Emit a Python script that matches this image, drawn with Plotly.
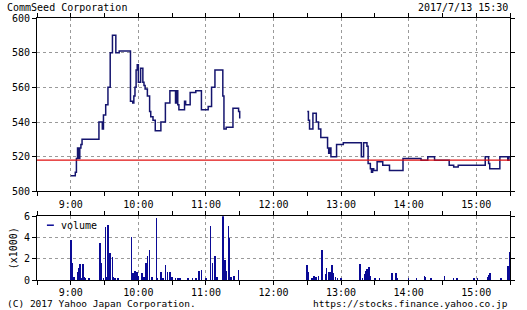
import plotly.graph_objects as go

# ---------------- data ----------------
price_times = ["09:00","09:04","09:05","09:06","09:07","09:08","09:09","09:10","09:25","09:28",
               "09:29","09:31","09:33","09:35","09:37","09:40","09:43","09:53","09:55","09:56",
               "09:57","09:58","09:59","10:00","10:02","10:04","10:05","10:06","10:08","10:10",
               "10:11","10:13","10:15","10:20","10:24","10:28","10:33","10:34","10:35","10:36",
               "10:41","10:42","10:46","10:51","10:56","11:02","11:05","11:08","11:15","11:16",
               "11:18","11:24","11:29","11:30",
               "12:00",
               "12:30","12:31","12:32","12:35","12:38","12:40","12:42","12:48","12:49","12:50",
               "12:51","12:56","13:02","13:18","13:20","13:23","13:24","13:26","13:27","13:28",
               "13:29","13:32","13:37","13:43","13:55","14:11","14:17","14:23","14:36","14:40",
               "14:44","15:08","15:11","15:12","15:21","15:28","15:29","15:30"]
prices = [509,511,519,525,519,525,527,530,540,536,
          544,550,560,580,590,580,581,552,551,555,
          560,570,573,563,571,563,561,559,555,546,
          543,541,535,540,551,558,551,558,550,547,
          552,550,557,558,547,549,560,570,555,536,
          537,548,546,542,
          None,
          546,541,536,545,540,536,531,525,522,525,
          520,527,528,520,528,526,516,513,511,513,
          512,517,515,512,519,518,520,518,515,514,
          515,520,516,513,520,518,520,520]

vol_times = ["09:00","09:01","09:03","09:06","09:07","09:08","09:10","09:11","09:12","09:13",
             "09:16","09:26","09:27","09:29","09:31","09:32","09:33","09:35","09:37","09:38",
             "09:39","09:42","09:54","09:55","09:57","09:58","09:59","10:00","10:03","10:05",
             "10:07","10:08","10:10","10:12","10:16","10:17","10:20","10:22","10:24","10:26",
             "10:28","10:30","10:33","10:35","10:37","10:44","10:48","10:51","10:54","10:56",
             "11:00","11:04","11:06","11:08","11:10","11:15","11:16","11:17","11:18","11:20",
             "11:21","11:22","11:25","11:29",
             "12:30","12:31","12:34","12:36","12:38","12:40","12:43","12:46","12:47","12:49",
             "12:50","12:52","12:53","12:55","12:57","13:00","13:17","13:19","13:21","13:22",
             "13:23","13:24","13:25","13:26","13:30","13:34","13:45","13:49","13:50","14:00",
             "14:07","14:14","14:15","14:20","14:32","14:40","14:43","14:58","15:01","15:10",
             "15:11","15:12","15:22","15:28","15:30"]
volumes = [3.75,1.6,0.3,0.7,1.15,1.5,0.2,1.5,0.3,0.2,
           0.1,3.45,1.55,0.2,4.95,0.3,5.15,2.5,2.1,0.3,
           0.2,0.1,4.0,0.6,0.8,0.5,0.7,0.4,0.6,0.3,
           1.55,2.25,2.8,0.3,5.8,0.2,0.7,0.2,1.35,0.7,
           0.7,0.3,0.2,0.2,0.2,0.2,0.2,0.2,0.8,0.9,
           0.2,5.05,1.55,2.2,0.3,6.0,1.9,1.85,0.8,5.05,
           3.9,0.3,0.4,0.9,
           1.4,0.7,0.2,0.4,0.3,0.4,2.8,0.5,1.15,0.7,
           0.7,1.4,0.6,0.3,0.2,0.2,1.45,0.2,0.5,0.8,
           1.0,1.0,1.2,0.4,0.2,0.2,0.6,0.65,0.2,0.2,
           0.15,0.35,0.3,0.15,0.35,0.15,0.1,0.1,0.15,0.3,
           0.45,0.6,0.2,1.25,2.65]

prev_close = 518
hour_ticks = ["09:00","10:00","11:00","12:00","13:00","14:00","15:00"]
hour_labels = ["9:00","10:00","11:00","12:00","13:00","14:00","15:00"]
title_text = "CommSeed Corporation"
date_text = "2017/7/13 15:30"
copyright_text = "(C) 2017 Yahoo Japan Corporation."
url_text = "https://stocks.finance.yahoo.co.jp"

D = "2017-07-13 "
def dt(t):
    return D + t + ":00"

px_ = [dt(t) for t in price_times]
vx_ = [dt(t) for t in vol_times]
tickvals = [dt(t) for t in hour_ticks]
xrange_ = [dt("08:30"), dt("15:30")]

FONT = "DejaVu Sans Mono"
W, H = 527, 310
ML, MR, MT, MB = 34, 16, 17, 30

fig = go.Figure()
fig.add_trace(go.Scatter(x=px_, y=prices, mode="lines", line=dict(color="#14146e", width=1.5, shape="hv"),
                         xaxis="x", yaxis="y", showlegend=False, connectgaps=False))
fig.add_trace(go.Bar(x=vx_, y=volumes, marker=dict(color="#0a0a96", line=dict(width=0)),
                     width=32000, xaxis="x2", yaxis="y2", showlegend=False))

axis_common = dict(showline=True, linecolor="black", linewidth=1, mirror="ticks",
                   ticks="outside", ticklen=4, tickcolor="black",
                   gridcolor="#9a9a9a", griddash="dot", gridwidth=1,
                   tickfont=dict(family=FONT, size=10, color="black"), zeroline=False)

xax = dict(axis_common, type="date", range=xrange_, tickmode="array", tickvals=tickvals,
           ticktext=hour_labels, showgrid=True,
           minor=dict(dtick=1800000, tick0=dt("08:30"), ticks="outside", ticklen=4,
                      tickcolor="black", showgrid=False))

plot_h = H - MT - MB
price_bottom = (H - MB - 191) / plot_h
vol_top = (H - MB - 216) / plot_h

fig.update_layout(
    width=W, height=H,
    margin=dict(l=ML, r=MR, t=MT, b=MB),
    paper_bgcolor="white", plot_bgcolor="white",
    bargap=0,
    xaxis=dict(xax, anchor="y", domain=[0, 1]),
    xaxis2=dict(xax, anchor="y2", domain=[0, 1], ticklen=3, ticklabelstandoff=0),
    yaxis=dict(axis_common, range=[500, 600], dtick=20, tick0=500, domain=[price_bottom, 1],
               showgrid=True, anchor="x"),
    yaxis2=dict(axis_common, range=[0, 6], dtick=2, tick0=0, domain=[0, vol_top],
                showgrid=True, anchor="x2"),
    font=dict(family=FONT, size=10, color="black"),
)

fig.add_shape(type="line", xref="x domain", yref="y", x0=0, x1=1, y0=prev_close, y1=prev_close,
              line=dict(color="#e01010", width=1.2))

def px2x(p):
    return (p - ML) / (W - ML - MR)
def py2y(p):
    return (H - MB - p) / plot_h

# legend
fig.add_shape(type="line", xref="paper", yref="paper", x0=px2x(44), x1=px2x(51),
              y0=py2y(225), y1=py2y(225), line=dict(color="#0a0a96", width=1.5))
annots = [
    dict(text="volume", x=px2x(56), y=py2y(225), xanchor="left", yanchor="middle", size=10),
    dict(text=title_text, x=px2x(2), y=py2y(6), xanchor="left", yanchor="middle", size=10),
    dict(text=date_text, x=px2x(511), y=py2y(6), xanchor="right", yanchor="middle", size=10),
    dict(text=copyright_text, x=px2x(2), y=py2y(304), xanchor="left", yanchor="middle", size=9.5),
    dict(text=url_text, x=px2x(511), y=py2y(304), xanchor="right", yanchor="middle", size=9.5),
    dict(text="(x1000)", x=px2x(10), y=py2y(248), xanchor="center", yanchor="middle", textangle=-90, size=10),
]
for a in annots:
    s = a.pop("size")
    fig.add_annotation(xref="paper", yref="paper", showarrow=False,
                       font=dict(family=FONT, size=s, color="black"), **a)

fig.write_html("out.html")
